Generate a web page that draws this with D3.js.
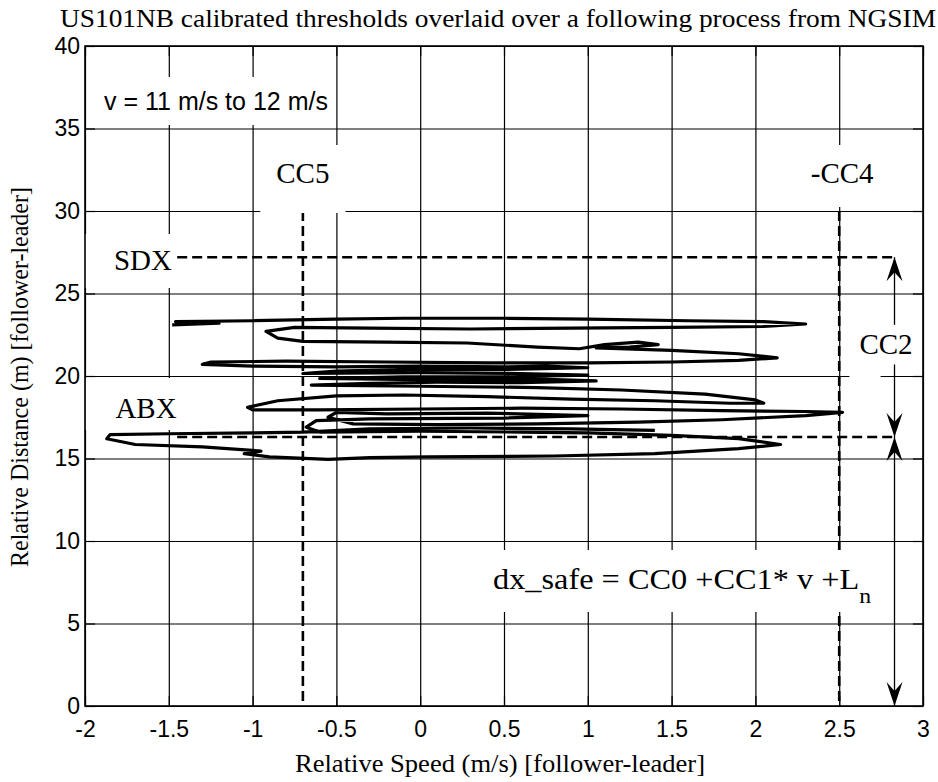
<!DOCTYPE html>
<html><head><meta charset="utf-8">
<script src="https://cdn.jsdelivr.net/npm/d3@7"></script>
<style>
body{margin:0;background:#fff}
svg{display:block}
</style></head><body>
<svg id="chart" width="938" height="782"></svg>
<script>
var xTicks = [-2,-1.5,-1,-0.5,0,0.5,1,1.5,2,2.5,3];
var yTicks = [0,5,10,15,20,25,30,35,40];
var titleText = "US101NB calibrated thresholds overlaid over a following process from NGSIM";
var xLabel = "Relative Speed (m/s) [follower-leader]";
var yLabel = "Relative Distance (m) [follower-leader]";
var speedNote = "v = 11 m/s to 12 m/s";

// [label, relative speed, top of dashed line]
var vThresholds = [["CC5", -0.7, 30], ["-CC4", 2.5, 30]];
// [label, relative distance]
var hThresholds = [["SDX", 27.2], ["ABX", 16.3]];
var hStart = -1.45;
var arrowSpeed = 2.83;
var cc2Gap = [20.7, 23.1];

// following process: relative speed (m/s) and relative distance (m)
var dvTrace = [-1.48,-1.2,-1.46,-1.0,-0.5,-0.1,0.5,1.0,1.6,2.05,2.3,
  2.05,1.5,0.9,0.3,-0.3,-0.75,-0.92,-0.85,-0.7,-0.2,0.28,
  0.7,0.95,1.1,1.3,1.42,1.25,1.05,1.5,1.9,2.13,
  1.9,1.5,1.0,0.4,-0.2,-0.8,-1.25,-1.3,
  -1.0,-0.5,0.0,0.5,0.75,1.0,
  0.5,0.0,-0.5,-0.7,0.0,0.6,1.0,0.5,-0.1,-0.6,0.0,0.75,1.05,0.6,0.1,-0.3,-0.65,
  0.0,0.7,1.2,1.7,2.0,2.05,
  1.85,1.4,0.9,0.4,-0.1,-0.5,-0.85,-1.03,-1.0,
  -0.6,0.0,0.6,1.2,1.8,2.3,2.52,
  2.3,1.8,1.3,0.7,0.1,-0.4,-0.55,-0.5,-0.2,0.4,1.0,0.5,-0.3,-0.62,-0.68,-0.6,
  0.0,0.6,1.0,1.5,1.9,2.15,
  1.9,1.4,0.8,0.05,-0.3,-0.55,-0.9,-1.05,-0.95,-1.3,-1.7,-1.87,-1.85,
  -1.5,-1.0,-0.7,-0.3,0.3,0.9,1.4];
var dxTrace = [23.1,23.2,23.3,23.35,23.45,23.5,23.5,23.45,23.35,23.3,23.15,
  23.0,22.95,22.9,22.85,22.9,22.95,22.7,22.3,22.1,22.05,22.0,
  21.75,21.65,21.9,22.05,21.9,21.75,21.7,21.55,21.35,21.1,
  20.95,20.85,20.8,20.8,20.85,20.9,20.85,20.7,
  20.6,20.55,20.6,20.55,20.6,20.5,
  20.4,20.42,20.3,20.15,20.2,20.15,20.05,19.95,19.95,19.85,19.78,19.8,19.7,19.6,19.62,19.55,19.45,
  19.38,19.3,19.15,18.9,18.55,18.35,
  18.35,18.5,18.6,18.75,18.85,18.8,18.5,18.1,17.95,
  17.95,18.0,18.05,18.0,17.9,17.85,17.8,
  17.6,17.35,17.2,17.1,17.05,17.1,17.5,17.8,17.7,17.75,17.6,17.45,17.4,17.3,16.9,16.6,
  16.65,16.6,16.55,16.4,16.2,15.85,
  15.6,15.3,15.15,15.1,15.05,14.95,15.1,15.3,15.45,15.7,15.85,16.2,16.45,
  16.5,16.55,16.6,16.8,16.85,16.8,16.7];

var svg = d3.select("#chart");
var L = 85, R = 923, T = 46, B = 706;
var x = d3.scaleLinear().domain([-2, 3]).range([L, R]);
var y = d3.scaleLinear().domain([0, 40]).range([B, T]);
var fmt = function(d) { return String(d); };
var sans = "Liberation Sans, Arial, sans-serif";
var serif = "Liberation Serif, Times New Roman, serif";

// grid
var grid = svg.append("g");
grid.append("g").attr("transform", "translate(0," + B + ")")
  .call(d3.axisBottom(x).tickValues(xTicks).tickSize(-(B - T)).tickFormat(""));
grid.append("g").attr("transform", "translate(" + L + ",0)")
  .call(d3.axisLeft(y).tickValues(yTicks).tickSize(-(R - L)).tickFormat(""));
grid.selectAll(".domain").remove();
grid.selectAll("line").attr("stroke", "#000").attr("stroke-width", 1.2);

// threshold dashed verticals (under the text boxes)
var dashed = svg.append("g").attr("stroke", "#000").attr("stroke-width", 2.6)
  .attr("stroke-dasharray", "10,5").attr("fill", "none");
vThresholds.forEach(function(t) {
  dashed.append("line").attr("x1", x(t[1])).attr("x2", x(t[1]))
    .attr("y1", y(t[2])).attr("y2", y(0));
});

var boxes = svg.append("g");
var over = svg.append("g");
var texts = svg.append("g");

// axes labels
var xAx = svg.append("g").attr("transform", "translate(0," + B + ")")
  .call(d3.axisBottom(x).tickValues(xTicks).tickSize(0).tickPadding(15).tickFormat(fmt));
var yAx = svg.append("g").attr("transform", "translate(" + L + ",0)")
  .call(d3.axisLeft(y).tickValues(yTicks).tickSize(0).tickPadding(5).tickFormat(fmt));
[xAx, yAx].forEach(function(a) {
  a.select(".domain").remove();
  a.selectAll("text").attr("font-family", sans).attr("font-size", 23).attr("fill", "#000");
});

// inward tick stubs on every side
[[d3.axisTop(x), "translate(0," + T + ")"], [d3.axisBottom(x), "translate(0," + B + ")"],
 [d3.axisLeft(y), "translate(" + L + ",0)"], [d3.axisRight(y), "translate(" + R + ",0)"]]
  .forEach(function(a) {
    var ax = a[0];
    ax.tickValues(ax.scale() === x ? xTicks : yTicks).tickSize(-10).tickFormat("");
    svg.append("g").attr("transform", a[1]).call(ax)
      .call(function(g) { g.select(".domain").remove(); g.selectAll("line").attr("stroke-width", 1.2); });
  });

// horizontal thresholds
hThresholds.forEach(function(t) {
  over.append("line").attr("x1", x(hStart)).attr("x2", x(arrowSpeed))
    .attr("y1", y(t[1])).attr("y2", y(t[1]))
    .attr("stroke", "#000").attr("stroke-width", 2.6).attr("stroke-dasharray", "10,5");
});

// following process
var line = d3.line()
  .x(function(i) { return x(dvTrace[i]); })
  .y(function(i) { return y(dxTrace[i]); });
over.append("path").attr("d", line(d3.range(dvTrace.length)))
  .attr("fill", "none").attr("stroke", "#000").attr("stroke-width", 3.2)
  .attr("stroke-linejoin", "round");

// arrows along CC2
var axp = x(arrowSpeed);
function head(py, dir) {
  var w = 8, len = 24, n = 9;
  return "M" + axp + "," + py + "L" + (axp - w) + "," + (py - dir * len) +
    "L" + axp + "," + (py - dir * (len - n)) + "L" + (axp + w) + "," + (py - dir * len) + "Z";
}
var arr = svg.append("g");
var ySdx = hThresholds[0][1], yAbx = hThresholds[1][1];
[[ySdx, cc2Gap[1]], [cc2Gap[0], yAbx], [yAbx, 0]].forEach(function(s) {
  arr.append("line").attr("x1", axp).attr("x2", axp).attr("y1", y(s[0])).attr("y2", y(s[1]))
    .attr("stroke", "#000").attr("stroke-width", 1.3);
});
[[ySdx, -1], [yAbx, 1], [yAbx, -1], [0, 1]].forEach(function(h) {
  arr.append("path").attr("d", head(y(h[0]), h[1]));
});

// frame
svg.append("rect").attr("x", L).attr("y", T).attr("width", R - L).attr("height", B - T)
  .attr("fill", "none").attr("stroke", "#000").attr("stroke-width", 1.6);

// texts with white boxes
function label(txt, px, py, font, size, anchor, pad, sub) {
  var t = texts.append("text").attr("x", px).attr("y", py).text(txt)
    .attr("font-family", font).attr("font-size", size).attr("text-anchor", anchor);
  if (sub) t.append("tspan").attr("dy", 14).attr("font-size", 22).text(sub);
  var b = t.node().getBBox();
  boxes.append("rect").attr("x", b.x - pad[0]).attr("y", b.y - pad[1])
    .attr("width", b.width + pad[0] + pad[2]).attr("height", b.height + pad[1] + pad[3])
    .attr("fill", "#fff");
  return t;
}
label(speedNote, 104, 110, sans, 25, "start", [6, 10, 6, 10]);
label(vThresholds[0][0], x(vThresholds[0][1]), 183, serif, 29, "middle", [16, 12, 16, 24]);
label(vThresholds[1][0], x(vThresholds[1][1]) + 3, 183, serif, 29, "middle", [14, 12, 10, 18]);
label(hThresholds[0][0], 143, 270, serif, 29, "middle", [38, 10, 4, 12]);
label(hThresholds[1][0], 146, 418, serif, 29, "middle", [30, 14, 8, 6]);
label("CC2", 886, 354, serif, 29, "middle", [10, 8, -32, 20]);
var f = label("dx_safe = CC0 +CC1* v +L", 493, 589, serif, 30, "start", [24, 12, 14, 4], "n");
f.attr("textLength", 378).attr("lengthAdjust", "spacingAndGlyphs");

// titles
svg.append("text").attr("x", 498).attr("y", 27).attr("text-anchor", "middle")
  .attr("font-family", serif).attr("font-size", 25)
  .attr("textLength", 876).attr("lengthAdjust", "spacingAndGlyphs").text(titleText);
svg.append("text").attr("x", 500).attr("y", 772).attr("text-anchor", "middle")
  .attr("font-family", serif).attr("font-size", 25)
  .attr("textLength", 410).attr("lengthAdjust", "spacingAndGlyphs").text(xLabel);
svg.append("text").attr("transform", "translate(28,377) rotate(-90)").attr("text-anchor", "middle")
  .attr("font-family", serif).attr("font-size", 25)
  .attr("textLength", 380).attr("lengthAdjust", "spacingAndGlyphs").text(yLabel);
</script>
</body></html>
